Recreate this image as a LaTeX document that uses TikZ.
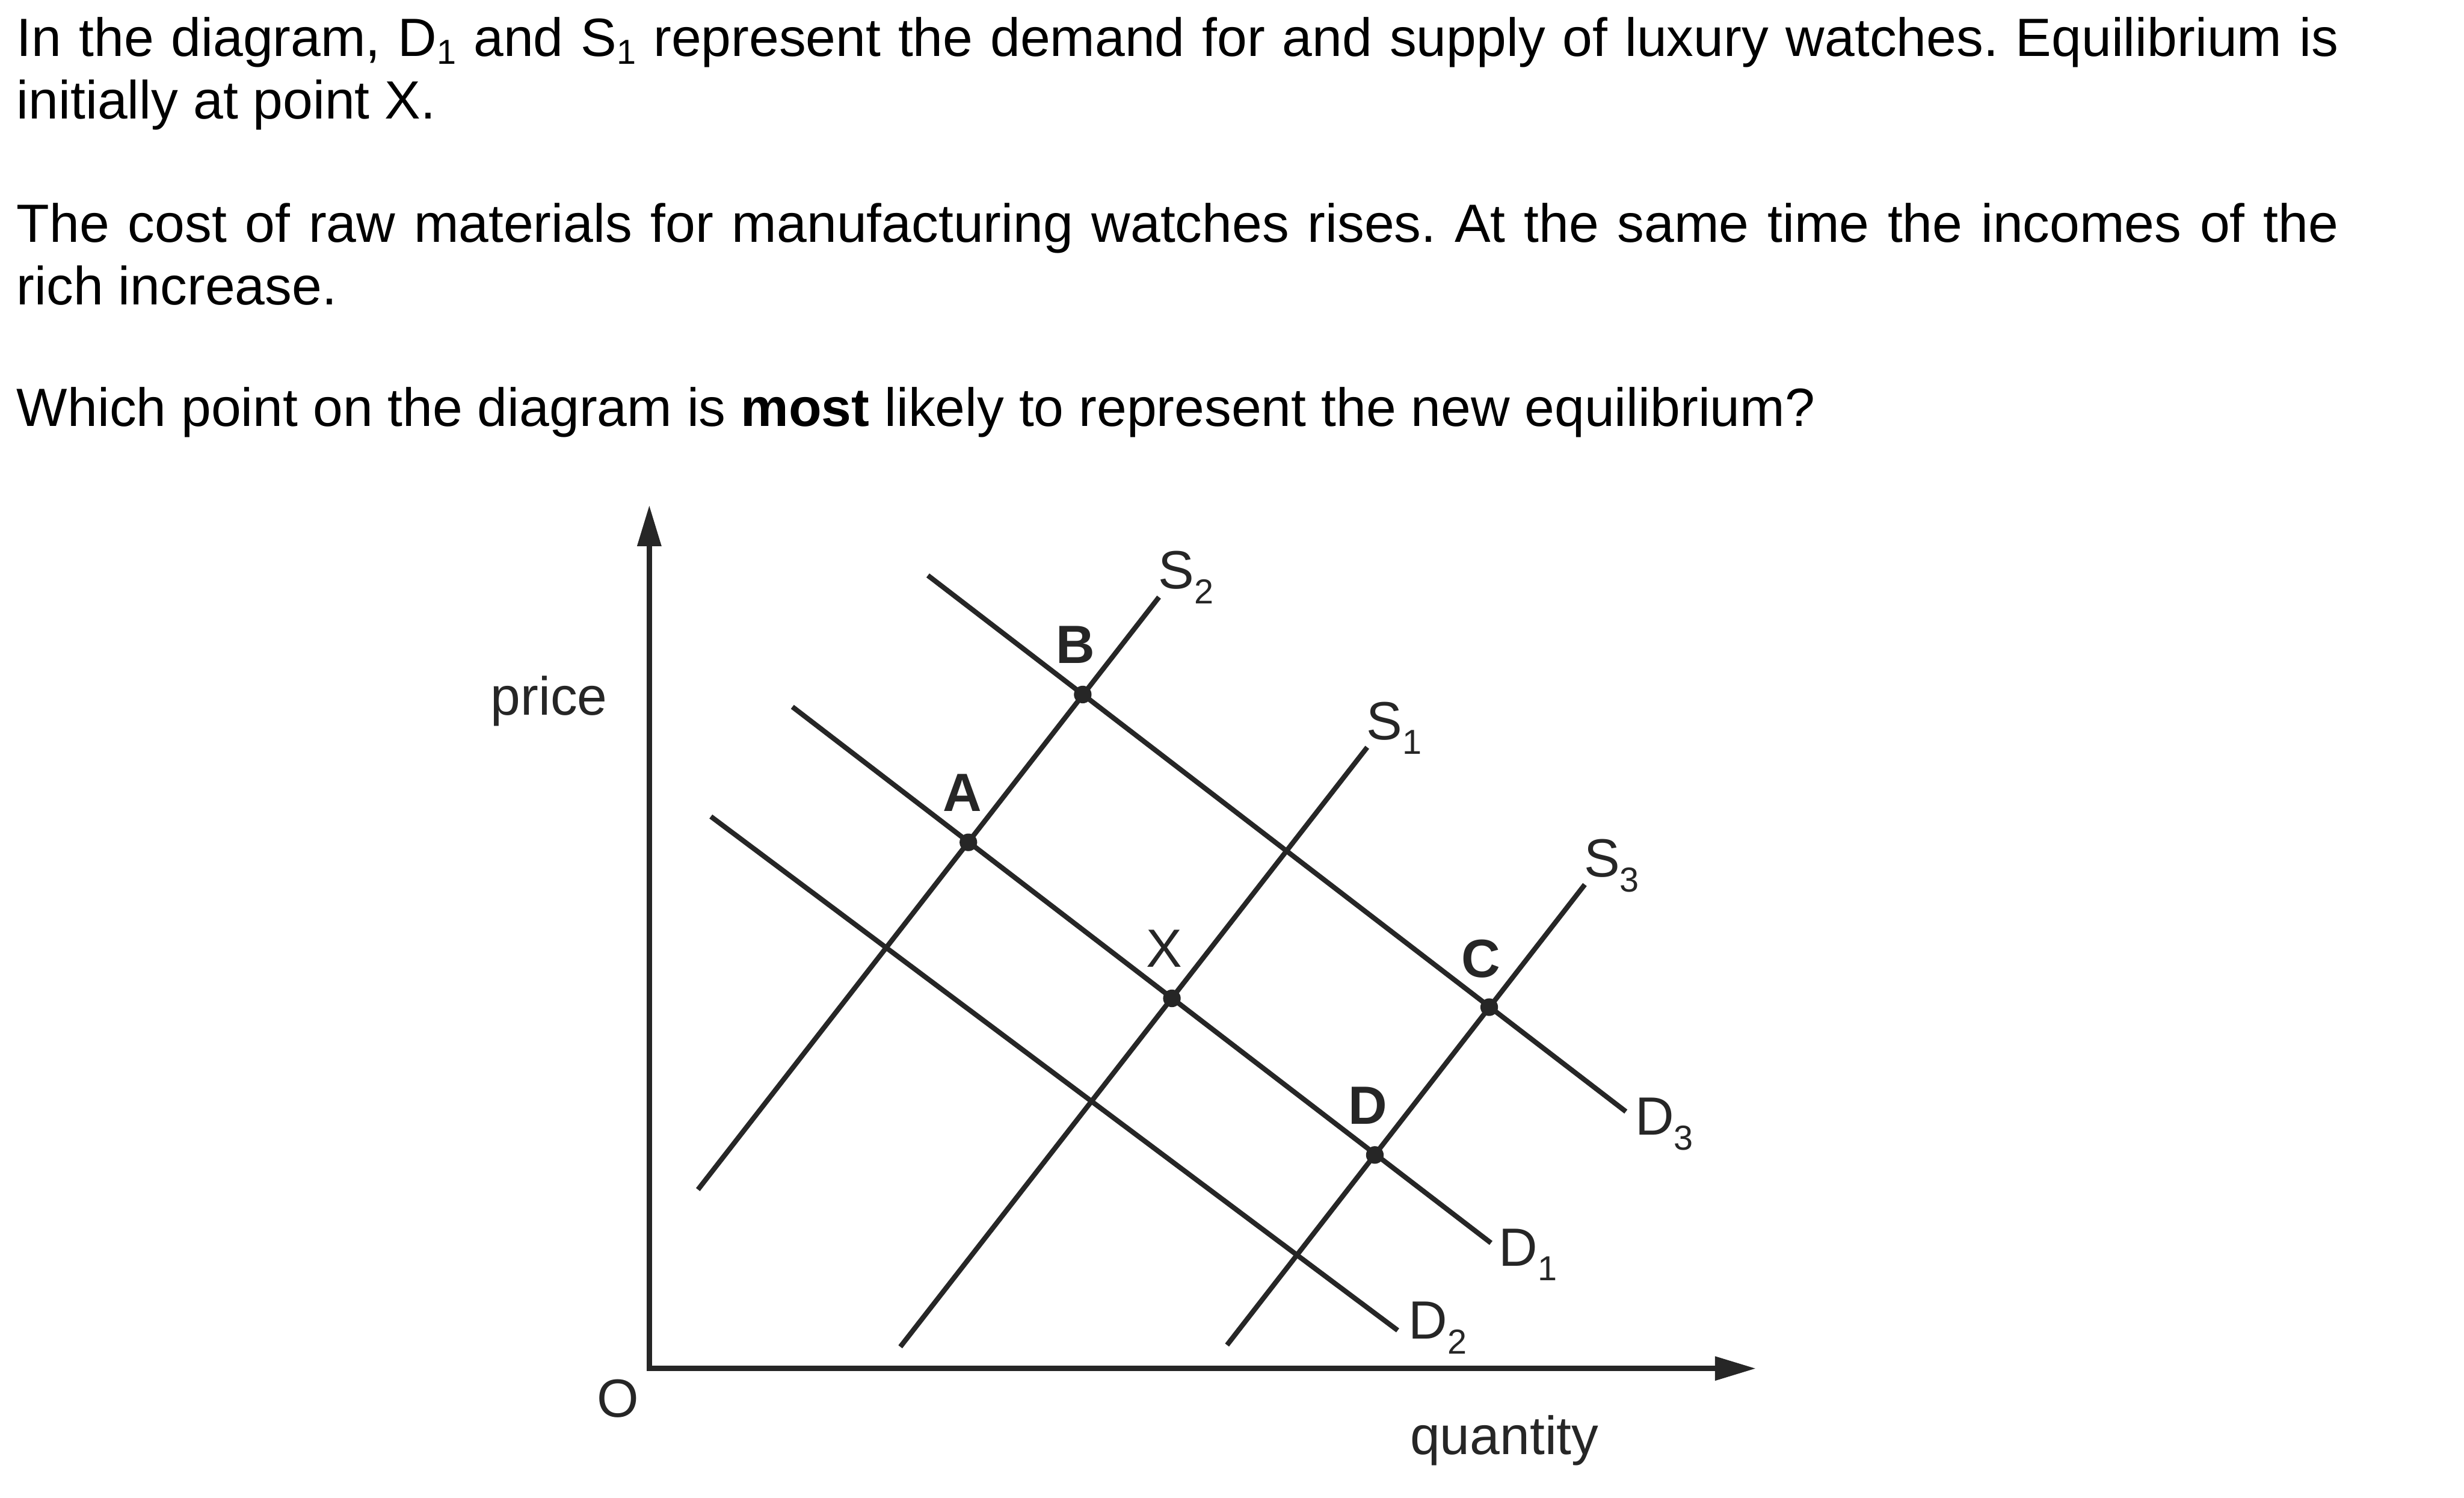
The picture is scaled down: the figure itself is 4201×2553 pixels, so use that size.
\documentclass[tikz,border=0pt]{standalone}
\usepackage{fontspec}
\setmainfont{Liberation Sans}
\usetikzlibrary{arrows.meta}
\definecolor{inkG}{HTML}{262626}

\newcommand{\lsub}[1]{\raisebox{-0.25cm}{\fontsize{16.8}{18}\selectfont #1}}
\newcommand{\tsub}[1]{\raisebox{-0.13cm}{\fontsize{16.8}{18}\selectfont #1}}
\newcommand{\fullline}[1]{\makebox[39.56cm][s]{#1}}

\begin{document}
\frenchspacing
\begin{tikzpicture}[x=0.01cm, y=-0.01cm,
  qline/.style={anchor=base west, inner sep=0pt,
    font=\fontsize{26.1}{30.45}\selectfont},
  axis/.style={line width=0.095cm, inkG, line join=miter,
    {Triangle[length=7mm,width=3.9mm]}-{Triangle[length=7mm,width=3.9mm]}},
  curve/.style={line width=0.085cm, inkG},
  eqpt/.style={circle, fill=inkG, inner sep=0pt, minimum size=0.3cm},
  lbl/.style={anchor=base, inner sep=0pt, text=inkG,
    font=\fontsize{26.1}{30}\selectfont},
  sublbl/.style={lbl, anchor=base west},
  ptlbl/.style={lbl, font=\fontsize{26.1}{30}\selectfont\bfseries},
]
\useasboundingbox (0,0) rectangle (4201,2553);

%% question text
\node[qline] (q1a) at (28,96)
  {\fullline{In the diagram, D\tsub{1} and S\tsub{1} represent the demand for and supply of luxury watches. Equilibrium is}};
\node[qline] (q1b) at (28,203) {initially at point X.};
\node[qline] (q2a) at (28,413)
  {\fullline{The cost of raw materials for manufacturing watches rises. At the same time the incomes of the}};
\node[qline] (q2b) at (28,519) {rich increase.};
\node[qline] (q3) at (28,727)
  {Which point on the diagram is \textbf{most} likely to represent the new equilibrium?};

%% axes
\coordinate (orig) at (1107,2333);
\coordinate (ytip) at (1107,861);
\coordinate (xtip) at (2994,2333);
\draw[axis] (ytip) -- (orig) -- (xtip);

\node[lbl] (price) at (936,1219) {price};
\node[lbl] (zero) at (1054,2416) {O};
\node[lbl] (qty) at (2565,2479) {quantity};

%% demand curves
\coordinate (d1a) at (1351,1205);
\coordinate (d1b) at (2542,2119);
\coordinate (d2a) at (1212,1392);
\coordinate (d2b) at (2383,2268);
\coordinate (d3a) at (1582,981);
\coordinate (d3b) at (2772,1895);
\draw[curve] (d1a) -- (d1b);
\draw[curve] (d2a) -- (d2b);
\draw[curve] (d3a) -- (d3b);

%% supply curves
\coordinate (s1a) at (1535,2296);
\coordinate (s1b) at (2331,1274);
\coordinate (s2a) at (1190,2028);
\coordinate (s2b) at (1976,1018);
\coordinate (s3a) at (2092,2293);
\coordinate (s3b) at (2702,1508);
\draw[curve] (s1a) -- (s1b);
\draw[curve] (s2a) -- (s2b);
\draw[curve] (s3a) -- (s3b);

%% curve labels
\node[sublbl] (labS1) at (2329,1261) {S\lsub{1}};
\node[sublbl] (labS2) at (1974,1004) {S\lsub{2}};
\node[sublbl] (labS3) at (2700,1495) {S\lsub{3}};
\node[sublbl] (labD1) at (2555,2158) {D\lsub{1}};
\node[sublbl] (labD2) at (2401,2283) {D\lsub{2}};
\node[sublbl] (labD3) at (2787,1935) {D\lsub{3}};

%% equilibrium points
\node[eqpt] (ptA) at (1651,1436) {};
\node[eqpt] (ptB) at (1846,1184) {};
\node[eqpt] (ptC) at (2539,1717) {};
\node[eqpt] (ptD) at (2344,1969) {};
\node[eqpt] (ptX) at (1998,1702) {};

\node[ptlbl] (labA) at (1641,1383) {A};
\node[ptlbl] (labB) at (1834,1131) {B};
\node[ptlbl] (labC) at (2525,1666) {C};
\node[ptlbl] (labD) at (2332,1916) {D};
\node[lbl] (labX) at (1985,1649) {X};

\end{tikzpicture}
\end{document}
